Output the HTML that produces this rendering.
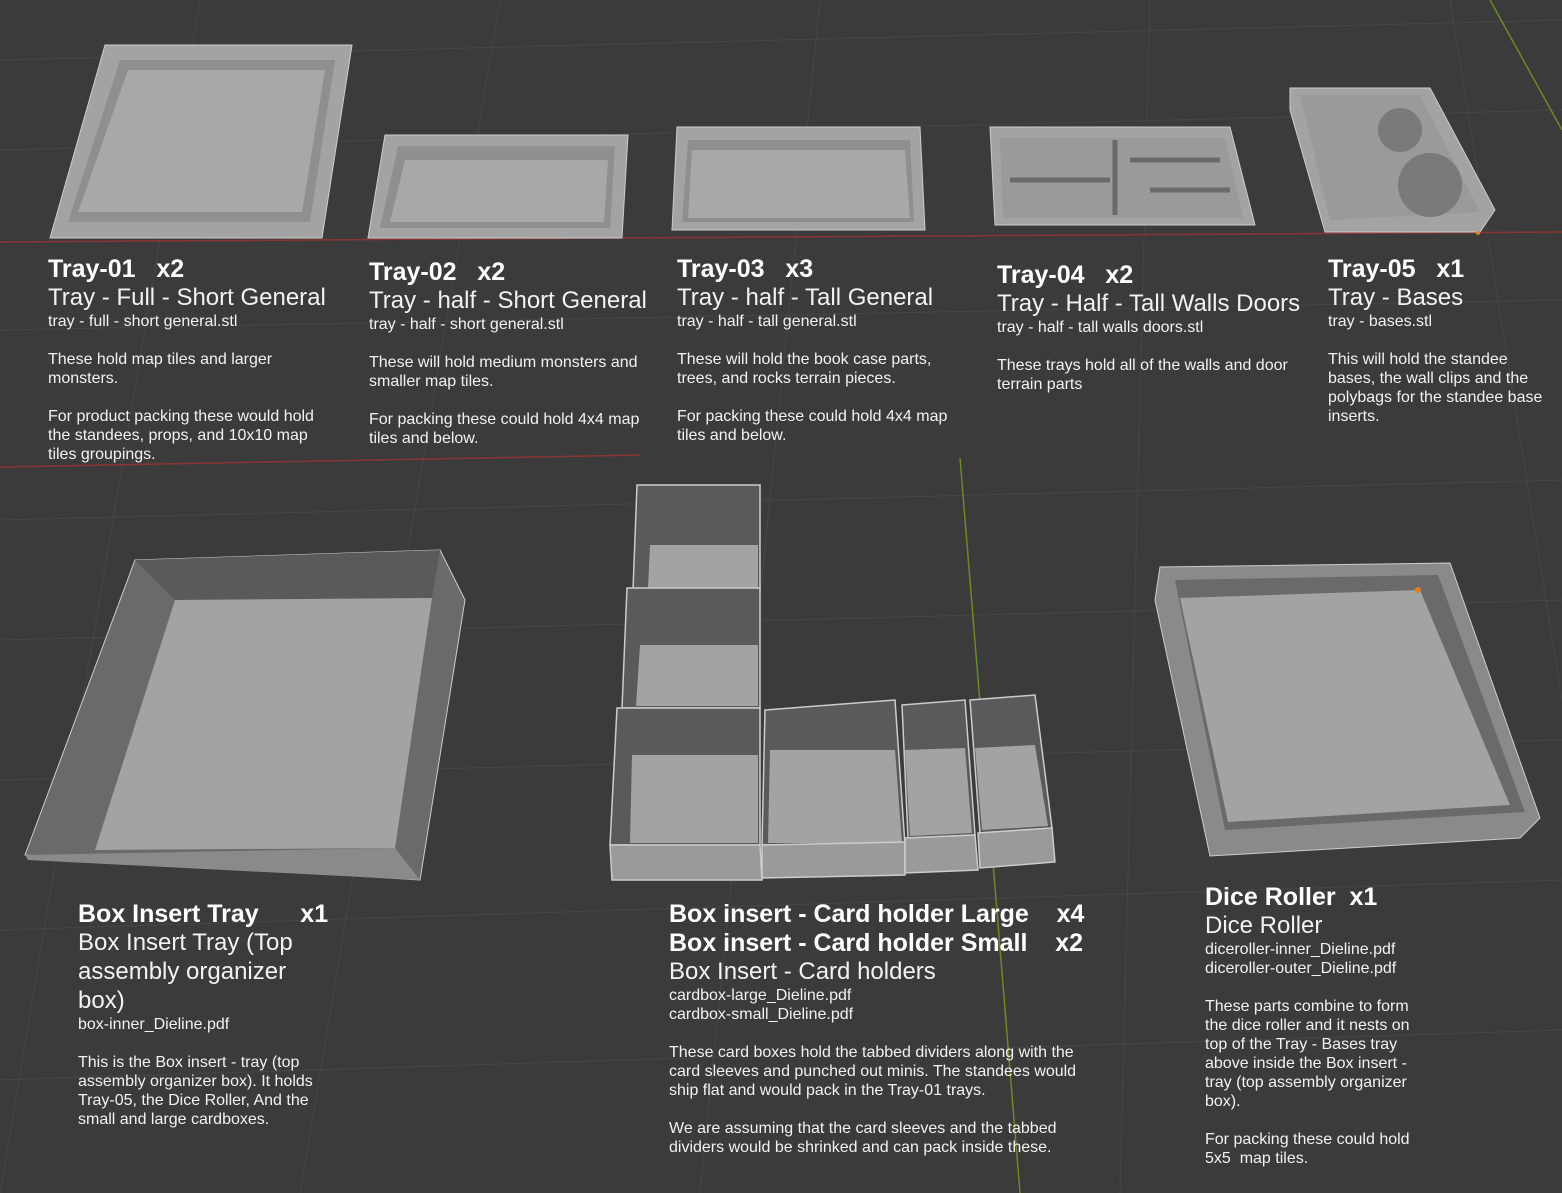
<!DOCTYPE html>
<html><head><meta charset="utf-8">
<style>
html,body{margin:0;padding:0;}
body{width:1562px;height:1193px;background:#3b3b3b;position:relative;overflow:hidden;font-family:"Liberation Sans",sans-serif;color:#fff;}
svg{position:absolute;left:0;top:0;}
.b{position:absolute;}
.t{font-weight:bold;font-size:25px;line-height:28px;white-space:nowrap;}
.s{font-size:24px;line-height:29px;color:#f2f2f2;}
.f{font-size:16px;line-height:19px;color:#f2f2f2;}
.p{font-size:16px;line-height:19px;color:#f2f2f2;margin-top:19px;}
</style></head><body>
<svg width="1562" height="1193" viewBox="0 0 1562 1193">
<g stroke="#464646" stroke-width="1" fill="none">
<path d="M0 60 L1562 20 M0 150 L1562 110 M0 330 L1562 300 M0 520 L1562 480 M0 640 L1562 600 M0 780 L1562 740 M0 930 L1562 880 M0 1080 L1562 1030"/>
<path d="M200 0 L0 1193 M500 0 L300 1193 M820 0 L700 1193 M1150 0 L1120 1193 M1450 0 L1562 700"/>
</g>
<line x1="0" y1="242" x2="1562" y2="232" stroke="#8a3535" stroke-width="1.5"/>
<line x1="0" y1="467" x2="640" y2="455" stroke="#8a3535" stroke-width="1.5"/>
<line x1="960" y1="458" x2="1020" y2="1193" stroke="#6a8a2a" stroke-width="1.5"/>
<line x1="1490" y1="0" x2="1562" y2="130" stroke="#6a8a2a" stroke-width="1.5"/>
<polygon points="105,45 352,45 322,238 50,238" fill="#a3a3a3" stroke="#ccc"/>
<polygon points="120,60 335,60 310,222 68,222" fill="#8f8f8f"/>
<polygon points="128,70 325,70 302,212 78,212" fill="#a8a8a8"/>
<polygon points="385,135 628,135 622,238 368,238" fill="#a3a3a3" stroke="#ccc"/>
<polygon points="398,146 615,146 610,228 380,228" fill="#8f8f8f"/>
<polygon points="405,160 608,160 604,222 390,222" fill="#a8a8a8"/>
<polygon points="677,127 920,127 925,230 672,230" fill="#a3a3a3" stroke="#ccc"/>
<polygon points="688,140 910,140 914,222 682,222" fill="#8f8f8f"/>
<polygon points="692,150 905,150 910,218 688,218" fill="#a8a8a8"/>
<polygon points="990,127 1230,127 1255,225 995,225" fill="#a3a3a3" stroke="#ccc"/>
<polygon points="1000,138 1225,138 1243,218 1003,218" fill="#9a9a9a"/>
<path d="M1010 180 L1110 180 M1115 140 L1115 215 M1130 160 L1220 160 M1150 190 L1230 190" stroke="#6a6a6a" stroke-width="5"/>
<polygon points="1290,88 1430,88 1495,210 1480,232 1325,232 1290,110" fill="#a3a3a3" stroke="#ccc"/>
<polygon points="1300,95 1420,95 1480,212 1330,220" fill="#9a9a9a"/>
<circle cx="1430" cy="185" r="32" fill="#7a7a7a"/>
<circle cx="1400" cy="130" r="22" fill="#7a7a7a"/>
<polygon points="135,560 440,550 465,600 420,880 25,855" fill="#6a6a6a" stroke="#ccc"/>
<polygon points="135,560 440,550 432,598 175,600" fill="#5a5a5a"/>
<polygon points="175,600 432,598 395,848 95,850" fill="#a3a3a3"/>
<polygon points="25,855 395,848 420,880 28,860" fill="#8a8a8a"/>
<g stroke="#ccc" stroke-width="1.5">
<polygon points="637,485 760,485 760,590 633,590" fill="#5a5a5a"/>
<polygon points="650,545 758,545 758,588 648,588" fill="#a3a3a3" stroke="none"/>
<polygon points="627,588 760,588 760,708 622,708" fill="#5a5a5a"/>
<polygon points="640,645 758,645 758,706 636,706" fill="#a3a3a3" stroke="none"/>
<polygon points="617,708 760,708 760,845 610,845" fill="#5a5a5a"/>
<polygon points="632,755 758,755 758,843 630,843" fill="#a3a3a3" stroke="none"/>
<polygon points="610,845 760,845 762,880 612,880" fill="#9a9a9a"/>
<polygon points="765,710 895,700 905,845 762,845" fill="#5a5a5a"/>
<polygon points="770,750 895,750 902,843 768,843" fill="#a3a3a3" stroke="none"/>
<polygon points="762,845 905,842 905,875 762,878" fill="#9a9a9a"/>
<polygon points="902,705 965,700 975,835 908,838" fill="#5a5a5a"/>
<polygon points="905,750 965,748 972,833 910,836" fill="#a3a3a3" stroke="none"/>
<polygon points="905,838 975,835 978,870 905,873" fill="#9a9a9a"/>
<polygon points="970,700 1035,695 1052,828 980,833" fill="#5a5a5a"/>
<polygon points="975,748 1035,745 1048,826 982,830" fill="#a3a3a3" stroke="none"/>
<polygon points="978,833 1052,828 1055,862 980,868" fill="#9a9a9a"/>
</g>
<polygon points="1160,567 1450,563 1540,818 1520,838 1210,856 1155,600" fill="#8a8a8a" stroke="#ccc"/>
<polygon points="1175,580 1438,575 1525,812 1225,830" fill="#6a6a6a"/>
<polygon points="1180,598 1420,590 1510,805 1228,822" fill="#a3a3a3"/>
<circle cx="1418" cy="590" r="3" fill="#e08020"/>
<circle cx="1478" cy="233" r="2" fill="#e08020"/>
</svg>

<div class="b" style="left:48px;top:255px;width:276px">
<div class="t">Tray-01 &nbsp; x2</div><div class="s" style="white-space:nowrap">Tray - Full - Short General</div><div class="f">tray - full - short general.stl</div>
<div class="p">These hold map tiles and larger monsters.</div>
<div class="p">For product packing these would hold the standees, props, and 10x10 map tiles groupings.</div></div>

<div class="b" style="left:369px;top:258px;width:276px">
<div class="t">Tray-02 &nbsp; x2</div><div class="s" style="white-space:nowrap">Tray - half - Short General</div><div class="f">tray - half - short general.stl</div>
<div class="p">These will hold medium monsters and smaller map tiles.</div>
<div class="p">For packing these could hold 4x4 map tiles and below.</div></div>

<div class="b" style="left:677px;top:255px;width:272px">
<div class="t">Tray-03 &nbsp; x3</div><div class="s" style="white-space:nowrap">Tray - half - Tall General</div><div class="f">tray - half - tall general.stl</div>
<div class="p">These will hold the book case parts, trees, and rocks terrain pieces.</div>
<div class="p">For packing these could hold 4x4 map tiles and below.</div></div>

<div class="b" style="left:997px;top:261px;width:300px">
<div class="t">Tray-04 &nbsp; x2</div><div class="s" style="white-space:nowrap">Tray - Half - Tall Walls Doors</div><div class="f">tray - half - tall walls doors.stl</div>
<div class="p">These trays hold all of the walls and door terrain parts</div></div>

<div class="b" style="left:1328px;top:255px;width:220px">
<div class="t">Tray-05 &nbsp; x1</div><div class="s">Tray - Bases</div><div class="f">tray - bases.stl</div>
<div class="p">This will hold the standee bases, the wall clips and the polybags for the standee base inserts.</div></div>

<div class="b" style="left:78px;top:900px;width:240px">
<div class="t">Box Insert Tray &nbsp; &nbsp; &nbsp;x1</div><div class="s">Box Insert Tray (Top assembly organizer box)</div><div class="f">box-inner_Dieline.pdf</div>
<div class="p">This is the Box insert - tray (top assembly organizer box). It holds Tray-05, the Dice Roller, And the small and large cardboxes.</div></div>

<div class="b" style="left:669px;top:900px;width:415px">
<div class="t">Box insert - Card holder Large &nbsp; &nbsp;x4</div>
<div class="t" style="margin-top:1px">Box insert - Card holder Small &nbsp; &nbsp;x2</div>
<div class="s">Box Insert - Card holders</div><div class="f">cardbox-large_Dieline.pdf<br>cardbox-small_Dieline.pdf</div>
<div class="p">These card boxes hold the tabbed dividers along with the card sleeves and punched out minis. The standees would ship flat and would pack in the Tray-01 trays.</div>
<div class="p">We are assuming that the card sleeves and the tabbed dividers would be shrinked and can pack inside these.</div></div>

<div class="b" style="left:1205px;top:883px;width:212px">
<div class="t">Dice Roller &nbsp;x1</div><div class="s">Dice Roller</div><div class="f">diceroller-inner_Dieline.pdf<br>diceroller-outer_Dieline.pdf</div>
<div class="p">These parts combine to form the dice roller and it nests on top of the Tray - Bases tray above inside the Box insert - tray (top assembly organizer box).</div>
<div class="p">For packing these could hold 5x5 &nbsp;map tiles.</div></div>
</body></html>
